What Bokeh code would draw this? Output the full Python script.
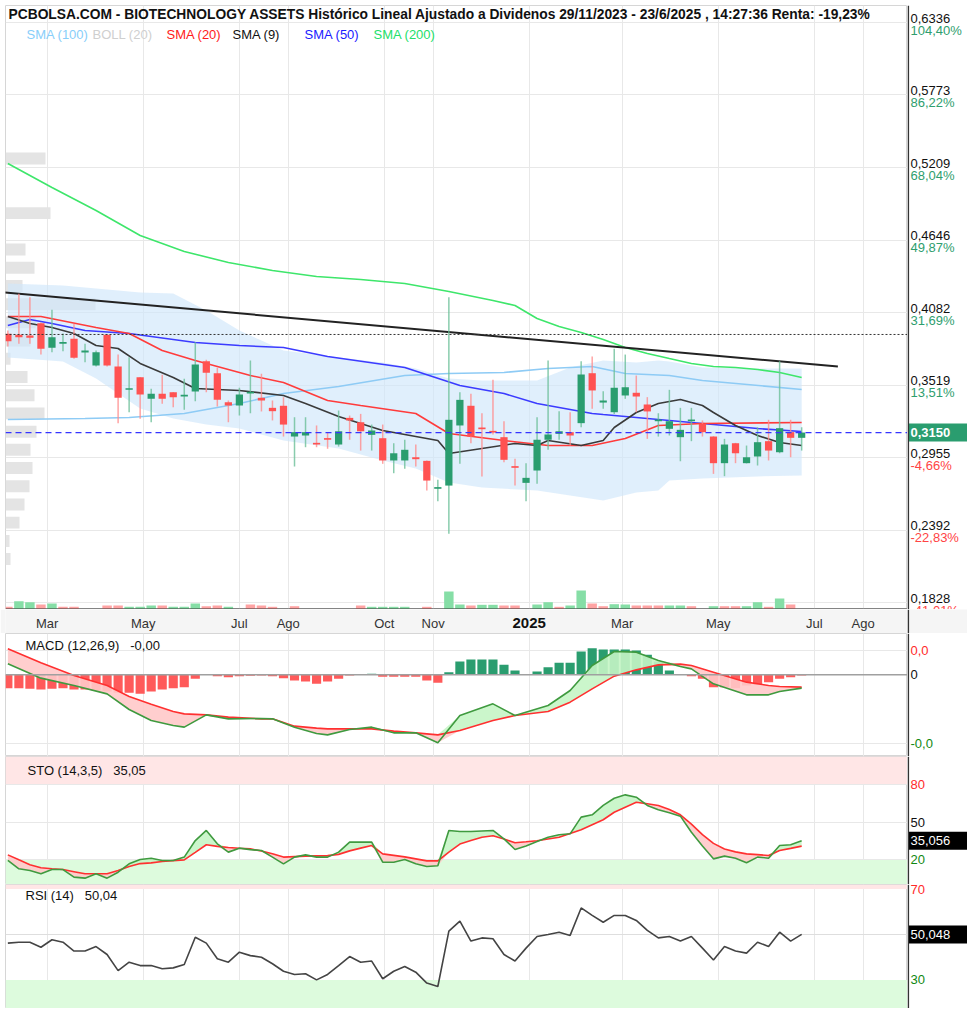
import numpy as np
import pandas as pd
from bokeh.plotting import figure
from bokeh.layouts import column, row
from bokeh.models import Range1d, FixedTicker, Span, Label, Grid, BoxAnnotation
from bokeh.embed import file_html
from bokeh.resources import INLINE
from bokeh.core.properties import value

# ----------------------------- DATA -----------------------------
title_text = ("PCBOLSA.COM - BIOTECHNOLOGY ASSETS Histórico Lineal Ajustado a Dividenos "
              "29/11/2023 - 23/6/2025 , 14:27:36 Renta: -19,23%")
first_week = "2024-02-05"
n_candles = 73

opens = [0.3917, 0.3910, 0.3904, 0.3999, 0.3808, 0.3840, 0.3878, 0.3772, 0.3671, 0.3910,
         0.3663, 0.3482, 0.3580, 0.3412, 0.3451, 0.3464, 0.3430, 0.3469, 0.3704, 0.3611,
         0.3386, 0.3360, 0.3453, 0.3420, 0.3342, 0.3358, 0.3119, 0.3127, 0.3070, 0.3106,
         0.3057, 0.3264, 0.3230, 0.3132, 0.3106, 0.2933, 0.2933, 0.2958, 0.2930, 0.2713,
         0.2738, 0.3205, 0.3358, 0.3187, 0.3160, 0.3114, 0.2886, 0.2759, 0.2855, 0.3094,
         0.3140, 0.3153, 0.3223, 0.3611, 0.3383, 0.3308, 0.3438, 0.3459, 0.3368, 0.3238,
         0.3179, 0.3114, 0.3238, 0.3218, 0.3119, 0.2912, 0.3067, 0.2912, 0.2964, 0.3083,
         0.2997, 0.3153, 0.3109]
highs = [0.3943, 0.4228, 0.4201, 0.4005, 0.4104, 0.3920, 0.3995, 0.3840, 0.3788, 0.3912,
         0.3756, 0.3735, 0.3582, 0.3490, 0.3599, 0.3466, 0.3568, 0.3852, 0.3715, 0.3653,
         0.3399, 0.3498, 0.3710, 0.3607, 0.3399, 0.3425, 0.3269, 0.3269, 0.3205, 0.3153,
         0.3321, 0.3282, 0.3295, 0.3212, 0.3212, 0.3067, 0.3094, 0.3057, 0.2932, 0.2783,
         0.4201, 0.3464, 0.3451, 0.3300, 0.3560, 0.3238, 0.2946, 0.2912, 0.3269, 0.3710,
         0.3316, 0.3308, 0.3704, 0.3741, 0.3471, 0.3801, 0.3756, 0.3593, 0.3425, 0.3300,
         0.3482, 0.3342, 0.3342, 0.3244, 0.3122, 0.3101, 0.3070, 0.3049, 0.3191, 0.3249,
         0.3704, 0.3249, 0.3191]
lows = [0.3819, 0.3840, 0.3840, 0.3756, 0.3774, 0.3782, 0.3723, 0.3697, 0.3663, 0.3663,
        0.3223, 0.3308, 0.3257, 0.3230, 0.3373, 0.3347, 0.3327, 0.3394, 0.3464, 0.3352,
        0.3230, 0.3282, 0.3300, 0.3314, 0.3244, 0.3119, 0.2886, 0.3036, 0.3036, 0.3024,
        0.3041, 0.3094, 0.3010, 0.3010, 0.2907, 0.2834, 0.2868, 0.2886, 0.2700, 0.2616,
        0.2363, 0.2907, 0.3067, 0.2808, 0.3135, 0.2919, 0.2738, 0.2616, 0.2752, 0.3016,
        0.3094, 0.3049, 0.3191, 0.3334, 0.3334, 0.3295, 0.3412, 0.3308, 0.3101, 0.3119,
        0.3127, 0.2927, 0.3083, 0.3119, 0.2829, 0.2811, 0.2912, 0.2910, 0.2894, 0.2933,
        0.2989, 0.2958, 0.3010]
closes = [0.3860, 0.3891, 0.3886, 0.3801, 0.3891, 0.3852, 0.3731, 0.3788, 0.3774, 0.3671,
          0.3420, 0.3495, 0.3446, 0.3451, 0.3412, 0.3425, 0.3438, 0.3679, 0.3614, 0.3404,
          0.3360, 0.3446, 0.3467, 0.3399, 0.3316, 0.3212, 0.3153, 0.3153, 0.3057, 0.3094,
          0.3160, 0.3244, 0.3160, 0.3166, 0.2933, 0.2989, 0.3016, 0.2943, 0.2777, 0.2725,
          0.3249, 0.3404, 0.3119, 0.3176, 0.3150, 0.2938, 0.2876, 0.2798, 0.3094, 0.3135,
          0.3160, 0.3127, 0.3601, 0.3477, 0.3399, 0.3498, 0.3502, 0.3430, 0.3314, 0.3249,
          0.3238, 0.3171, 0.3249, 0.3153, 0.2912, 0.3057, 0.2989, 0.2958, 0.3075, 0.3010,
          0.3184, 0.3109, 0.3150]
volume = [2700, 8300, 7300, 5000, 6000, 2700, 2700, 0, 0, 4000,
          4000, 2700, 2700, 4000, 4000, 2700, 2700, 6000, 3300, 4000,
          2700, 0, 5000, 4000, 2700, 0, 3300, 0, 0, 0,
          0, 0, 4000, 2700, 2700, 2700, 2700, 0, 2700, 0,
          18000, 5000, 4000, 4700, 4700, 4000, 4000, 0, 5000, 7300,
          2700, 4000, 19000, 6000, 3300, 5300, 5000, 4000, 4000, 4000,
          4000, 4000, 3300, 0, 3300, 3300, 3300, 3300, 7300, 2700,
          11000, 5000, 0]
volume_up = [0, 1, 1, 0, 1, 0, 0, 0, 0, 0,
             0, 1, 1, 1, 0, 1, 1, 1, 0, 0,
             1, 0, 0, 0, 0, 0, 0, 0, 0, 0,
             0, 0, 0, 1, 1, 1, 1, 0, 0, 0,
             1, 1, 0, 1, 1, 0, 0, 0, 1, 1,
             0, 1, 1, 0, 0, 1, 1, 0, 0, 0,
             1, 1, 0, 0, 1, 0, 0, 1, 1, 0,
             1, 0, 1]

# volume by price (left profile)
vp_price = [0.5279, 0.4855, 0.4572, 0.4430, 0.4289, 0.4147, 0.4006, 0.3865, 0.3723, 0.3582,
            0.3440, 0.3299, 0.3157, 0.3016, 0.2874, 0.2733, 0.2591, 0.2450, 0.2308, 0.2167]
vp_volume = [40, 45, 20, 29, 17, 90, 30, 25, 5, 22, 29, 39, 31, 25, 27, 24, 19, 14, 4, 5]

# moving averages (candle index, value)
sma200_n = [0, 4, 8, 12, 16, 20, 24, 28, 32, 36, 40, 44, 46, 48, 50, 52, 54, 56, 58, 60,
            62, 64, 66, 68, 70, 72]
sma200 = [0.5241, 0.5054, 0.4875, 0.4681, 0.4557, 0.4471, 0.4409, 0.4363, 0.4339, 0.4308,
          0.4246, 0.4176, 0.4137, 0.4036, 0.3974, 0.3927, 0.3873, 0.3811, 0.3764, 0.3725,
          0.3687, 0.3663, 0.3655, 0.3640, 0.3617, 0.3578]
sma100_n = [0, 7, 11, 16, 21, 25, 30, 36, 40, 45, 49, 53, 56, 60, 63, 72]
sma100 = [0.3251, 0.3259, 0.3267, 0.3298, 0.3376, 0.3453, 0.3508, 0.3593, 0.3609, 0.3617,
          0.3648, 0.3663, 0.3609, 0.3593, 0.3554, 0.3485]
sma50_n = [0, 2, 4, 7, 11, 17, 21, 25, 29, 36, 41, 45, 48, 53, 54, 59, 63, 68, 72]
sma50 = [0.3982, 0.4028, 0.3997, 0.3943, 0.3920, 0.3850, 0.3826, 0.3811, 0.3741, 0.3655,
         0.3516, 0.3453, 0.3376, 0.3298, 0.3290, 0.3251, 0.3220, 0.3181, 0.3158]
sma20_n = [0, 3, 8, 11, 14, 17, 22, 25, 29, 32, 37, 40, 45, 49, 53, 56, 59, 63, 72]
sma20 = [0.4052, 0.4052, 0.3966, 0.3920, 0.3788, 0.3710, 0.3593, 0.3539, 0.3399, 0.3360,
         0.3298, 0.3143, 0.3088, 0.3049, 0.3049, 0.3104, 0.3205, 0.3220, 0.3228]
sma9_n = [0, 2, 4, 6, 8, 10, 12, 15, 17, 21, 25, 27, 30, 34, 39, 40, 43, 46, 48, 49,
          52, 54, 55, 57, 59, 61, 63, 64, 66, 68, 70, 72]
sma9 = [0.4052, 0.3997, 0.3966, 0.3920, 0.3826, 0.3803, 0.3687, 0.3578, 0.3492, 0.3477,
        0.3438, 0.3376, 0.3275, 0.3166, 0.3088, 0.2987, 0.3026, 0.3065, 0.3049, 0.3088,
        0.3049, 0.3088, 0.3189, 0.3306, 0.3376, 0.3407, 0.3360, 0.3306, 0.3205, 0.3127,
        0.3073, 0.3049]
boll_n = [0, 5, 8, 12, 15, 18, 21, 23, 25, 30, 34, 37, 40, 43, 48, 51, 54, 57, 59, 60,
          63, 68, 72]
boll_upper = [0.4308, 0.4293, 0.4269, 0.4238, 0.4230, 0.4098, 0.3943, 0.3865, 0.3788, 0.3733,
              0.3694, 0.3648, 0.3570, 0.3554, 0.3554, 0.3655, 0.3710, 0.3694, 0.3710, 0.3702,
              0.3655, 0.3648, 0.3648]
boll_lower = [0.3733, 0.3702, 0.3570, 0.3337, 0.3259, 0.3212, 0.3181, 0.3135, 0.3088, 0.3026,
              0.2933, 0.2871, 0.2762, 0.2723, 0.2700, 0.2661, 0.2622, 0.2684, 0.2700, 0.2777,
              0.2793, 0.2809, 0.2816]
trend_dates = ["2024-02-03", "2025-07-16"]
trend_values = [0.4238, 0.3663]
ref_level = 0.3912
last_price = 0.3150
last_price_label = "0,3150"

price_ticks = [0.6336, 0.5773, 0.5209, 0.4646, 0.4082, 0.3519, 0.2955, 0.2392, 0.1828]
price_labels = ["0,6336", "0,5773", "0,5209", "0,4646", "0,4082", "0,3519", "0,2955",
                "0,2392", "0,1828"]
pct_labels = ["104,40%", "86,22%", "68,04%", "49,87%", "31,69%", "13,51%",
              "-4,66%", "-22,83%", "-41,01%"]
month_dates = ["2024-03-01", "2024-05-01", "2024-07-01", "2024-08-01", "2024-10-01",
               "2024-11-01", "2025-01-01", "2025-03-01", "2025-05-01", "2025-07-01",
               "2025-08-01"]
month_labels = ["Mar", "May", "Jul", "Ago", "Oct", "Nov", "2025", "Mar", "May", "Jul", "Ago"]
legend_names = ["SMA (100)", "BOLL (20)", "SMA (20)", "SMA (9)", "SMA (50)", "SMA (200)"]
legend_colors = ["#87cefa", "#cfcfcf", "#ff1a1a", "#111111", "#1a1aff", "#22e06a"]

# MACD (12,26,9)
macd_n = [0, 3, 6, 9, 11, 13, 15, 16, 18, 20, 23, 24, 26, 28, 29, 31, 33, 35, 37, 39,
          41, 44, 46, 49, 51, 53, 55, 57, 59, 61, 62, 64, 67, 69, 70, 72]
macd_line = [0.00219, -0.00067, -0.00214, -0.00381, -0.00694, -0.00914, -0.01014, -0.01047,
             -0.00801, -0.00881, -0.00874, -0.00881, -0.01047, -0.01174, -0.01201, -0.01094,
             -0.01047, -0.01161, -0.01161, -0.01361, -0.00814, -0.00581, -0.00814, -0.00614,
             -0.00314, 0.00186, 0.00466, 0.00453, 0.00286, 0.00166, 0.00119, -0.00181,
             -0.00401, -0.00401, -0.00334, -0.00267]
macd_signal = [0.00519, 0.00239, -0.00014, -0.00214, -0.00434, -0.00587, -0.00734, -0.00781,
               -0.00801, -0.00847, -0.00881, -0.00881, -0.01027, -0.01067, -0.01081, -0.01081,
               -0.01081, -0.01127, -0.01161, -0.01201, -0.01114, -0.00914, -0.00814, -0.00734,
               -0.00547, -0.00281, -0.00027, 0.00099, 0.00199, 0.00213, 0.00186, 0.00053,
               -0.00147, -0.00214, -0.00234, -0.00247]
macd_hist = [-0.00267, -0.00267, -0.00280, -0.00293, -0.00280, -0.00267, -0.00293, -0.00293,
             -0.00313, -0.00333, -0.00360, -0.00360, -0.00380, -0.00333, -0.00293, -0.00267,
             -0.00247, -0.00080, 0.0, -0.00027, -0.00047, -0.00027, -0.00020, -0.00013,
             -0.00027, -0.00067, -0.00113, -0.00133, -0.00180, -0.00133, -0.00080, -0.00013,
             0.0, 0.00020, -0.00040, -0.00040, -0.00040, -0.00040, -0.00113, -0.00160,
             0.00053, 0.00267, 0.00307, 0.00307, 0.00307, 0.00200, 0.00087, 0.0,
             0.00067, 0.00153, 0.00240, 0.00240, 0.00467, 0.00533, 0.00507, 0.00507,
             0.00507, 0.00487, 0.00400, 0.00267, 0.00087, 0.0, -0.00027, -0.00080,
             -0.00247, -0.00247, -0.00267, -0.00213, -0.00200, -0.00147, -0.00080, -0.00047,
             -0.00013]
macd_ticks = [0.00486, 0.0, -0.0138]
macd_tick_labels = ["0,0", "0", "-0,0"]

# Stochastic (14,3,5)
sto_k = [19.3, 12.6, 11.2, 8.6, 12.0, 12.0, 5.9, 5.1, 8.6, 5.1,
         9.9, 16.6, 20.1, 21.1, 19.3, 19.3, 22.0, 35.3, 43.4, 32.7,
         26.0, 29.2, 28.0, 27.3, 22.0, 16.6, 22.0, 23.8, 22.0, 22.0,
         26.0, 34.0, 34.0, 34.0, 17.9, 17.9, 20.1, 16.6, 14.5, 15.0,
         43.4, 42.6, 42.6, 43.0, 43.4, 36.7, 28.1, 31.0, 34.5, 38.0,
         39.9, 40.7, 54.1, 56.0, 63.5, 69.3, 72.0, 70.1, 63.5, 60.0,
         57.6, 54.9, 42.0, 31.0, 20.6, 22.8, 21.1, 17.4, 22.0, 21.1,
         31.3, 31.9, 35.056]
sto_d = [23.8, 19.8, 15.9, 13.5, 12.6, 12.0, 10.3, 8.6, 8.6, 8.6,
         11.3, 14.5, 16.8, 17.4, 18.5, 19.2, 19.8, 25.8, 31.9, 30.6,
         29.7, 29.1, 28.6, 26.9, 24.7, 22.0, 22.4, 22.8, 23.0, 23.2,
         24.2, 27.0, 29.2, 31.3, 24.6, 23.4, 22.2, 20.6, 19.0, 19.0,
         26.0, 32.5, 35.3, 38.0, 39.2, 36.5, 33.5, 34.3, 35.2, 36.6,
         38.0, 41.0, 44.0, 48.0, 52.0, 58.0, 62.1, 66.0, 64.8, 63.5,
         60.3, 56.0, 48.5, 40.0, 33.0, 28.5, 26.2, 24.6, 24.0, 23.3,
         27.3, 29.0, 30.8]
sto_ticks = [80, 50, 20]
sto_tick_labels = ["80", "50", "20"]
sto_last_label = "35,056"

# RSI (14)
rsi = [46.2, 46.6, 46.6, 44.4, 47.7, 46.6, 42.7, 42.7, 44.7, 41.2,
       34.1, 37.8, 36.3, 36.3, 34.9, 35.3, 36.8, 48.8, 46.2, 39.3,
       37.8, 42.2, 40.7, 40.0, 37.1, 33.8, 32.4, 32.7, 30.0, 32.4,
       36.3, 40.3, 37.8, 38.3, 30.5, 33.8, 35.9, 33.4, 28.6, 27.1,
       51.5, 55.9, 47.1, 48.5, 48.1, 41.2, 38.3, 44.0, 49.1, 50.0,
       51.0, 49.6, 61.7, 58.4, 55.4, 58.4, 58.4, 56.2, 51.8, 48.5,
       49.1, 47.1, 49.1, 44.0, 38.8, 44.7, 42.7, 41.8, 46.6, 44.7,
       51.0, 47.1, 50.048]
rsi_ticks = [70, 30]
rsi_tick_labels = ["70", "30"]
rsi_last_label = "50,048"

# ----------------------------- LAYOUT / STYLE -----------------------------
FONT = "Liberation Sans"
LB = 5            # left white border
FRAME_W = 902
SIDE_W = 60
PX_PER_DAY = 1.575
X0 = -1.5
X1 = X0 + FRAME_W / PX_PER_DAY
UP, DN = "#2a9d6f", "#ff5252"
GRID = "#e8e8e8"
RED_T, GREEN_T = "#ff2a2a", "#118811"


def xat(px):
    return X0 + px / PX_PER_DAY


base = pd.Timestamp(first_week)
weeks = pd.date_range(first_week, periods=n_candles, freq="7D")
xd = np.array((weeks - base).days, dtype=float)
month_x = [float((pd.Timestamp(d) - base).days) for d in month_dates]
trend_x = [float((pd.Timestamp(d) - base).days) for d in trend_dates]

o, h, l, c = map(np.array, (opens, highs, lows, closes))
is_up = c >= o
body_col = np.where(is_up, UP, DN)
wick_col = np.where(is_up, "#6cbf98", "#ff8c8c")
body_bot = np.minimum(o, c)
body_top = np.maximum(np.maximum(o, c), body_bot + 0.0013)

xr = Range1d(X0, X1)


def make_fig(height, yr, top=0):
    f = figure(width=LB + FRAME_W, height=height, x_range=xr, y_range=yr,
               output_backend="svg", toolbar_location=None,
               x_axis_location=None, y_axis_location=None,
               min_border=0, min_border_left=LB, min_border_right=0,
               min_border_top=top, min_border_bottom=0)
    f.outline_line_color = "#d6d6d6"
    f.grid.grid_line_color = None
    f.add_layout(Grid(dimension=0, ticker=FixedTicker(ticks=month_x), grid_line_color=GRID))
    return f


def make_side(height, yr, top=0, bg="white"):
    s = figure(width=SIDE_W, height=height, x_range=Range1d(0, SIDE_W), y_range=yr,
               output_backend="svg", toolbar_location=None,
               x_axis_location=None, y_axis_location=None,
               min_border=0, min_border_left=0, min_border_right=0,
               min_border_top=top, min_border_bottom=0)
    s.outline_line_color = None
    s.grid.grid_line_color = None
    s.background_fill_color = bg
    s.border_fill_color = bg
    s.add_layout(Span(location=0.8, dimension="height", line_color="#333333", line_width=1.6))
    return s


def side_text(s, ys, texts, colors, baseline="middle", bold=False, size="13px"):
    s.text(x=[3] * len(ys), y=ys, text=texts, text_color=colors,
           text_font=value(FONT), text_font_size=value(size),
           text_font_style="bold" if bold else "normal",
           text_align="left", text_baseline=baseline)


def side_box(s, y, text, bg, bold=False):
    s.rect(x=[30.5], y=[y], width=[58], height=[18], height_units="screen",
           fill_color=bg, line_color=None)
    side_text(s, [y], [text], ["white"], bold=bold)


def lab(fig, x, y, text, color="#111111", size="13px", bold=False):
    fig.add_layout(Label(x=x, y=y, text=text, text_color=color, text_font=FONT,
                         text_font_size=size, text_font_style="bold" if bold else "normal",
                         text_baseline="middle", text_align="left"))


# ----------------------------- MAIN PANEL -----------------------------
TOP = 5
H_MAIN = 609
FH = H_MAIN - TOP
Y0, Y1 = 0.17751, 0.64681


def ymain(py):  # py: pixels below frame top
    return Y1 - py * (Y1 - Y0) / FH


yr_main = Range1d(Y0, Y1)
p = make_fig(H_MAIN, yr_main, top=TOP)
p.extra_y_ranges = {"vol": Range1d(0, 604000)}
p.extra_x_ranges = {"vp": Range1d(0, FRAME_W)}
p.add_layout(Grid(dimension=1, ticker=FixedTicker(ticks=price_ticks), grid_line_color=GRID))

p.hbar(y=vp_price, height=0.0093, left=0, right=vp_volume, x_range_name="vp",
       fill_color="#e4e4e4", line_color=None)
p.varea(x=xd[boll_n], y1=boll_lower, y2=boll_upper, fill_color="#cfe7fb", fill_alpha=0.65)
p.vbar(x=xd, top=volume, bottom=0, width=6.0, y_range_name="vol",
       fill_color=np.where(np.array(volume_up) == 1, "#86dea6", "#ffa3a3"), line_color=None)

p.line(xd[sma100_n], sma100, line_color="#8ecbf5", line_width=1.6)
p.line(xd[sma200_n], sma200, line_color="#3ee66b", line_width=1.6)
p.line(xd[sma50_n], sma50, line_color="#3b3bff", line_width=1.6)
p.line(xd[sma20_n], sma20, line_color="#ff3b3b", line_width=1.6)
p.line(xd[sma9_n], sma9, line_color="#3a3a3a", line_width=1.6)
p.line(trend_x, trend_values, line_color="#222222", line_width=2)

p.add_layout(Span(location=ref_level, dimension="width", line_color="#333333",
                  line_dash="2 2", line_width=1))
p.add_layout(Span(location=last_price, dimension="width", line_color="#3535ff",
                  line_dash="6 4", line_width=1.3))
p.add_layout(Span(location=Y0, dimension="width", line_color="#333333", line_width=2))

p.segment(x0=xd, y0=h, x1=xd, y1=l, line_color=wick_col, line_width=1.5, line_alpha=0.8)
p.vbar(x=xd, top=body_top, bottom=body_bot, width=4.6, fill_color=body_col, line_color=None)

lab(p, xat(3), ymain(9), title_text, bold=True, size="13.8px")
legend_px = [21, 87, 161, 227, 299, 368]
for name, col, px in zip(legend_names, legend_colors, legend_px):
    lab(p, xat(px), ymain(29), name, color=col)

s_main = make_side(H_MAIN, yr_main, top=TOP)
side_text(s_main, price_ticks, price_labels, ["#111111"] * len(price_ticks), baseline="bottom")
side_text(s_main, price_ticks, pct_labels,
          ["#ff4444" if t.startswith("-") else "#2e9e6e" for t in pct_labels], baseline="top")
side_box(s_main, last_price, last_price_label, UP, bold=True)

# ----------------------------- DATE STRIP -----------------------------
STRIP_BG = "#f5f5f5"
yr_strip = Range1d(0, 1)
ps = figure(width=LB + FRAME_W, height=24, x_range=xr, y_range=yr_strip, output_backend="svg",
            toolbar_location=None, x_axis_location=None, y_axis_location=None,
            min_border=0, min_border_left=LB, min_border_right=0,
            min_border_top=0, min_border_bottom=0)
ps.grid.grid_line_color = None
ps.outline_line_color = None
ps.background_fill_color = STRIP_BG
ps.border_fill_color = STRIP_BG
reg_x = [x for x, s in zip(month_x, month_labels) if s != "2025"]
reg_t = [s for s in month_labels if s != "2025"]
yr_x = [x for x, s in zip(month_x, month_labels) if s == "2025"]
yr_t = [s for s in month_labels if s == "2025"]
ps.text(x=reg_x, y=0.42, text=reg_t, text_font=value(FONT), text_font_size=value("13px"),
        text_align="center", text_baseline="middle", text_color="#333333")
ps.text(x=yr_x, y=0.42, text=yr_t, text_font=value(FONT), text_font_size=value("15px"),
        text_font_style="bold", text_align="center", text_baseline="middle",
        text_color="#111111")
s_strip = make_side(24, yr_strip, bg=STRIP_BG)

# ----------------------------- MACD -----------------------------
yr_macd = Range1d(-0.01634, 0.00826)
pm = make_fig(123, yr_macd)
pm.add_layout(Grid(dimension=1, ticker=FixedTicker(ticks=[macd_ticks[0], macd_ticks[2]]),
                   grid_line_color=GRID))
pm.add_layout(Span(location=0, dimension="width", line_color="#a0a0a0", line_width=1.5))
hist = np.array(macd_hist)
pm.vbar(x=xd, top=hist, bottom=0, width=5.8,
        fill_color=np.where(hist >= 0, "#2a9d6f", "#ff5a5a"), line_color=None)
mx = xd[macd_n]
ml, ms = np.array(macd_line), np.array(macd_signal)
pm.varea(x=mx, y1=ms, y2=np.maximum(ml, ms), fill_color="#c5f5c5", fill_alpha=0.9)
pm.varea(x=mx, y1=np.minimum(ml, ms), y2=ms, fill_color="#ffc9c9", fill_alpha=0.9)
pm.line(mx, ms, line_color="#ff3030", line_width=1.6)
pm.line(mx, ml, line_color="#3f9a3f", line_width=1.6)
lab(pm, xat(20), 0.00586, "MACD (12,26,9)\u00a0\u00a0\u00a0-0,00")
s_macd = make_side(123, yr_macd)
side_text(s_macd, macd_ticks, macd_tick_labels, [RED_T, "#111111", GREEN_T])

# ----------------------------- STOCHASTIC -----------------------------
yr_sto = Range1d(0, 102.8)
pt = make_fig(128, yr_sto)
pt.add_layout(BoxAnnotation(bottom=80, fill_color="#ffe6e6", fill_alpha=1, line_color=None,
                            level="underlay"))
pt.add_layout(BoxAnnotation(top=20, fill_color="#ddfbdd", fill_alpha=1, line_color=None,
                            level="underlay"))
pt.add_layout(Grid(dimension=1, ticker=FixedTicker(ticks=sto_ticks), grid_line_color=GRID))
k, d = np.array(sto_k), np.array(sto_d)
pt.varea(x=xd, y1=d, y2=np.maximum(k, d), fill_color="#c5f5c5", fill_alpha=0.9)
pt.varea(x=xd, y1=np.minimum(k, d), y2=d, fill_color="#ffc9c9", fill_alpha=0.9)
pt.line(xd, d, line_color="#ff3030", line_width=1.6)
pt.line(xd, k, line_color="#3f9a3f", line_width=1.6)
lab(pt, xat(22), 91.6, "STO (14,3,5)\u00a0\u00a0\u00a035,05")
s_sto = make_side(128, yr_sto)
side_text(s_sto, sto_ticks, sto_tick_labels, [RED_T, "#111111", GREEN_T])
side_box(s_sto, sto_k[-1], sto_last_label, "#000000")

# ----------------------------- RSI -----------------------------
yr_rsi = Range1d(17.4, 72.03)
pr = make_fig(124, yr_rsi)
pr.add_layout(BoxAnnotation(bottom=70, fill_color="#ffe6e6", fill_alpha=1, line_color=None,
                            level="underlay"))
pr.add_layout(BoxAnnotation(top=30, fill_color="#ddfbdd", fill_alpha=1, line_color=None,
                            level="underlay"))
pr.add_layout(Grid(dimension=1, ticker=FixedTicker(ticks=[50]), grid_line_color="#dedede"))
pr.line(xd, rsi, line_color="#444444", line_width=1.6)
lab(pr, xat(20), 67.2, "RSI (14)\u00a0\u00a0\u00a050,04")
s_rsi = make_side(124, yr_rsi)
side_text(s_rsi, rsi_ticks, rsi_tick_labels, [RED_T, GREEN_T])
side_box(s_rsi, rsi[-1], rsi_last_label, "#000000")

layout = column(row(p, s_main, spacing=0), row(ps, s_strip, spacing=0),
                row(pm, s_macd, spacing=0), row(pt, s_sto, spacing=0),
                row(pr, s_rsi, spacing=0), spacing=0)
open("out.html", "w").write(file_html(layout, INLINE))
